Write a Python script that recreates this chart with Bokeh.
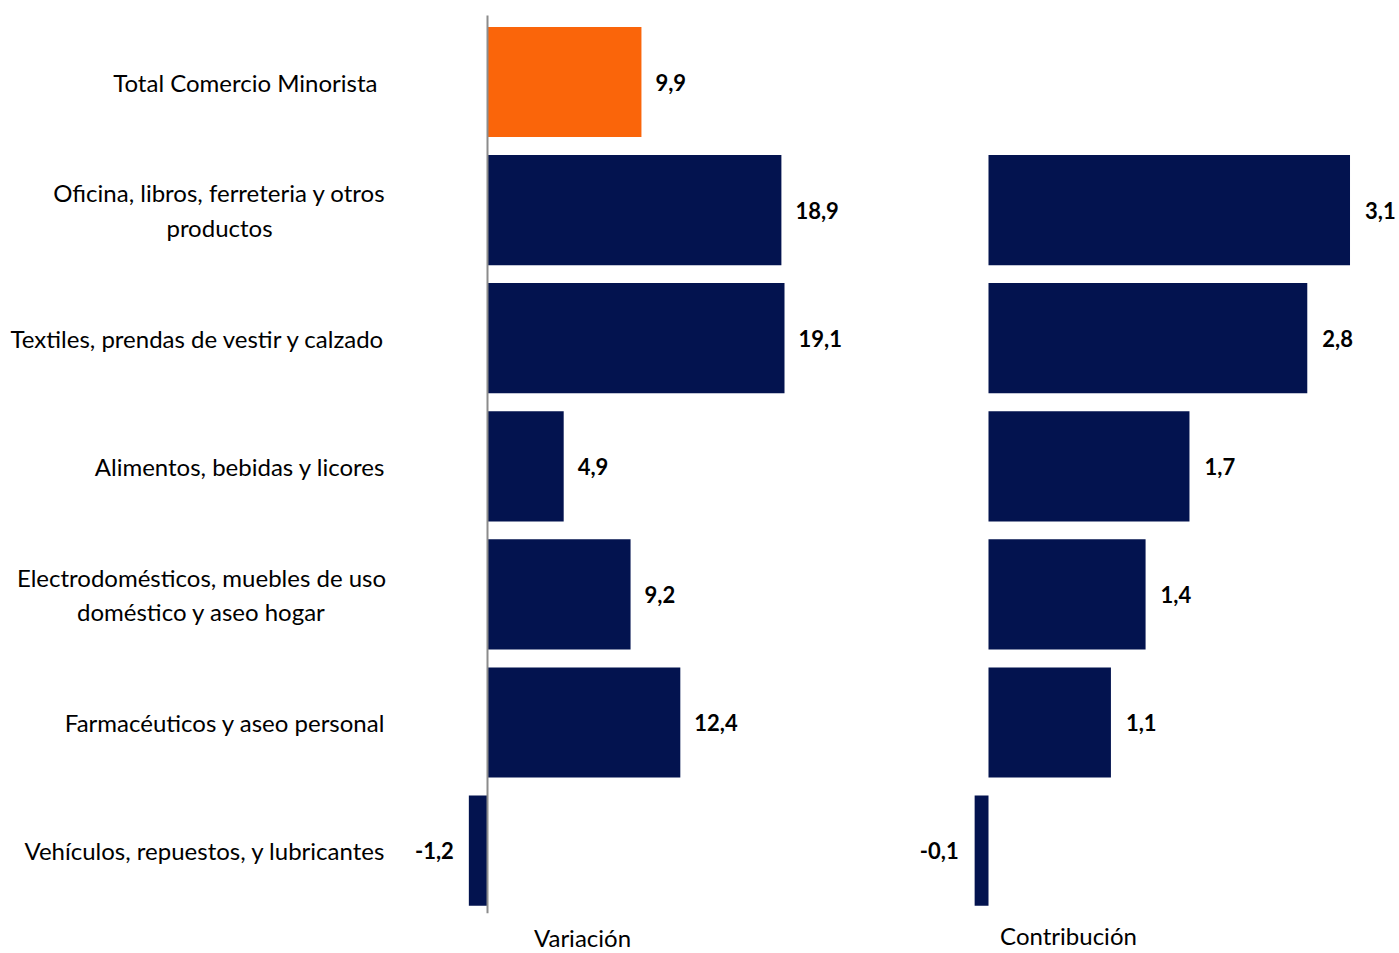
from bokeh.plotting import figure
from bokeh.models import Range1d, ColumnDataSource
from bokeh.core.properties import value
from bokeh.embed import file_html
from bokeh.resources import INLINE

# ---------------- data ----------------
categories = [
    "Total Comercio Minorista",
    "Oficina, libros, ferreteria y otros\nproductos",
    "Textiles, prendas de vestir y calzado",
    "Alimentos, bebidas y licores",
    "Electrodomésticos, muebles de uso\ndoméstico y aseo hogar",
    "Farmacéuticos y aseo personal",
    "Vehículos, repuestos, y lubricantes",
]
variacion = [9.9, 18.9, 19.1, 4.9, 9.2, 12.4, -1.2]
# contributions (labels show one decimal)
contribucion = [None, 3.13, 2.76, 1.74, 1.36, 1.06, -0.12]
panel_titles = ["Variación", "Contribución"]

# ---------------- layout ----------------
W, H = 1399, 953
V_ZERO, V_SCALE = 487, 15.55
C_ZERO, C_SCALE = 988, 115.5
ROW0, STEP = 81.5, 128.1

NAVY = "#03134F"
ORANGE = "#FA650A"
FONT = value("Lato")
LABEL_SIZE = "24px"
VALUE_SIZE = "22px"


def vx(px):
    return (px - V_ZERO) / V_SCALE


def cx(px):
    return (px - C_ZERO) / C_SCALE


def ry(py):
    return (py - ROW0) / STEP


def fmt(v):
    return f"{v:.1f}".replace(".", ",")


p = figure(width=W, height=H, output_backend="svg", toolbar_location=None,
           x_range=Range1d(vx(0), vx(W)),
           y_range=Range1d(ry(H), ry(0)),
           min_border=0, tools="")
p.extra_x_ranges = {"c": Range1d(cx(0), cx(W))}
p.axis.visible = False
p.grid.visible = False
p.outline_line_color = None
p.background_fill_color = "white"
p.border_fill_color = "white"

idx = list(range(len(categories)))
colors = [ORANGE] + [NAVY] * (len(categories) - 1)

# Variación bars
vsrc = ColumnDataSource(dict(y=idx, v=variacion, color=colors))
p.hbar(y="y", left=0, right="v", height=0.86, fill_color="color",
       line_color=None, source=vsrc)

# zero line of the Variación panel
p.segment(x0=[0], y0=[-0.52], x1=[0], y1=[len(categories) - 0.51],
          line_color="#8C8C8C", line_width=2)


def value_labels(ys, vs, range_name, off):
    pos = ColumnDataSource(dict(
        y=[i for i, v in zip(ys, vs) if v >= 0],
        v=[v for v in vs if v >= 0],
        lab=[fmt(v) for v in vs if v >= 0]))
    neg = ColumnDataSource(dict(
        y=[i for i, v in zip(ys, vs) if v < 0],
        v=[v for v in vs if v < 0],
        lab=[fmt(v) for v in vs if v < 0]))
    kw = dict(text_baseline="middle", text_font=FONT, text_font_size=VALUE_SIZE,
              text_font_style="bold", text_color="black")
    if range_name:
        kw["x_range_name"] = range_name
    p.text(x="v", y="y", text="lab", source=pos, x_offset=off,
           text_align="left", **kw)
    p.text(x="v", y="y", text="lab", source=neg, x_offset=-off - 1,
           text_align="right", **kw)


value_labels(idx, variacion, None, 14)

# Contribución bars
ci = [i for i, c in zip(idx, contribucion) if c is not None]
cv = [c for c in contribucion if c is not None]
csrc = ColumnDataSource(dict(y=ci, v=cv))
p.hbar(y="y", left=0, right="v", height=0.86, fill_color=NAVY,
       line_color=None, source=csrc, x_range_name="c")
value_labels(ci, cv, "c", 15)

# Category labels
label_right_px = {0: 377}
single = [(i, c) for i, c in zip(idx, categories) if "\n" not in c]
multi = [(i, c) for i, c in zip(idx, categories) if "\n" in c]
p.text(x=[vx(label_right_px.get(i, 385)) for i, _ in single],
       y=[i for i, _ in single],
       text=[c for _, c in single], text_align="right", text_baseline="middle",
       text_font=FONT, text_font_size=LABEL_SIZE, text_color="black")
multi_center_px = {1: 219, 4: 201}
p.text(x=[vx(multi_center_px[i]) for i, _ in multi], y=[i for i, _ in multi],
       text=[c for _, c in multi], text_align="center", text_baseline="middle",
       text_font=FONT, text_font_size=LABEL_SIZE, text_color="black",
       text_line_height=1.2)

# Panel titles
p.text(x=[vx(582)], y=[ry(922)], text=[panel_titles[0]], text_align="center",
       text_baseline="top", text_font=FONT, text_font_size=LABEL_SIZE,
       text_color="black")
p.text(x=[cx(1068)], y=[ry(920)], text=[panel_titles[1]], text_align="center",
       text_baseline="top", text_font=FONT, text_font_size=LABEL_SIZE,
       text_color="black", x_range_name="c")

open("out.html", "w").write(file_html(p, INLINE))
